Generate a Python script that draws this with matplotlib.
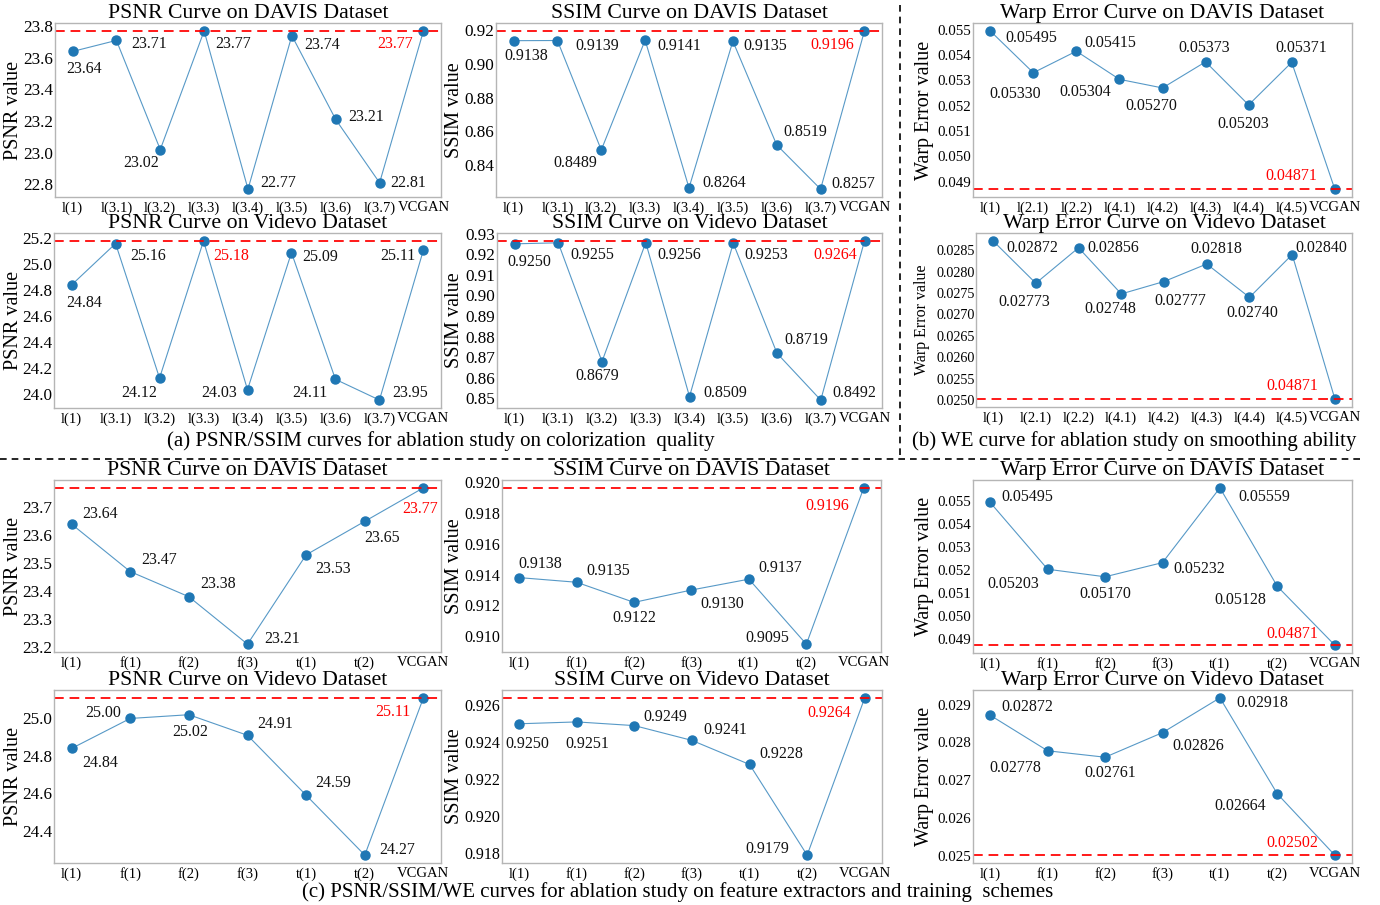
import matplotlib
matplotlib.use("Agg")
import matplotlib.pyplot as plt
from matplotlib.ticker import MultipleLocator, FormatStrFormatter
from matplotlib.lines import Line2D

plt.rcParams['font.family'] = ['Liberation Serif', 'DejaVu Serif']

# ---------------- data ----------------
cats_a = ["l(1)", "l(3.1)", "l(3.2)", "l(3.3)", "l(3.4)", "l(3.5)", "l(3.6)", "l(3.7)", "VCGAN"]
cats_b = ["l(1)", "l(2.1)", "l(2.2)", "l(4.1)", "l(4.2)", "l(4.3)", "l(4.4)", "l(4.5)", "VCGAN"]
cats_c = ["l(1)", "f(1)", "f(2)", "f(3)", "t(1)", "t(2)", "VCGAN"]

psnr_davis_a = [23.64, 23.71, 23.02, 23.77, 22.77, 23.74, 23.21, 22.81, 23.77]
ssim_davis_a = [0.9138, 0.9139, 0.8489, 0.9141, 0.8264, 0.9135, 0.8519, 0.8257, 0.9196]
psnr_videvo_a = [24.84, 25.16, 24.12, 25.18, 24.03, 25.09, 24.11, 23.95, 25.11]
ssim_videvo_a = [0.9250, 0.9255, 0.8679, 0.9256, 0.8509, 0.9253, 0.8719, 0.8492, 0.9264]

we_davis_b = [0.05495, 0.05330, 0.05415, 0.05304, 0.05270, 0.05373, 0.05203, 0.05371, 0.04871]
we_videvo_b = [0.02872, 0.02773, 0.02856, 0.02748, 0.02777, 0.02818, 0.02740, 0.02840, 0.02502]
we_videvo_b_labels = ["0.02872", "0.02773", "0.02856", "0.02748", "0.02777", "0.02818",
                      "0.02740", "0.02840", "0.04871"]

psnr_davis_c = [23.64, 23.47, 23.38, 23.21, 23.53, 23.65, 23.77]
ssim_davis_c = [0.9138, 0.9135, 0.9122, 0.9130, 0.9137, 0.9095, 0.9196]
we_davis_c = [0.05495, 0.05203, 0.05170, 0.05232, 0.05559, 0.05128, 0.04871]
psnr_videvo_c = [24.84, 25.00, 25.02, 24.91, 24.59, 24.27, 25.11]
ssim_videvo_c = [0.9250, 0.9251, 0.9249, 0.9241, 0.9228, 0.9179, 0.9264]
we_videvo_c = [0.02872, 0.02778, 0.02761, 0.02826, 0.02918, 0.02664, 0.02502]

# ---------------- layout / style ----------------
W, H = 1380, 905
fig = plt.figure(figsize=(W / 100, H / 100), dpi=100)

def rect(l, t, r, b):
    return [l / W, 1 - b / H, (r - l) / W, (b - t) / H]

BLUE = '#1f77b4'
GREY = '#b5b5b5'

def panel(box, cats, vals, title, ylabel, step, fmt, ref, red_idx, offsets, ylab_px,
          labels=None, ylabel_size=14.5, ytick_size=12.3):
    ax = fig.add_axes(rect(*box))
    x = list(range(len(cats)))
    ax.plot(x, vals, '-', color=BLUE, lw=0.8, alpha=0.75)
    ax.plot(x, vals, 'o', color=BLUE, ms=6.5)
    ax.axhline(ref, color='red', ls=(0, (5, 3)), lw=1.4, alpha=0.9)
    ax.set_xticks(x)
    ax.set_xticklabels(cats, fontsize=10.5)
    ax.yaxis.set_major_locator(MultipleLocator(step))
    ax.yaxis.set_major_formatter(FormatStrFormatter(fmt))
    ax.tick_params(axis='y', labelsize=ytick_size, length=0, pad=1)
    ax.tick_params(axis='x', length=0, pad=3)
    for s in ax.spines.values():
        s.set_color(GREY)
        s.set_linewidth(1.0)
    ax.set_title(title, fontsize=15.7, pad=1)
    ax.set_ylabel(ylabel, fontsize=ylabel_size)
    l, t, r, b = box
    ax.yaxis.set_label_coords((ylab_px - l) / (r - l), 0.5)
    if labels is None:
        dec = fmt.split('.')[1][0]
        nd = {'1': 2, '2': 4, '3': 4, '4': 5}[dec]
        if 'Warp' in ylabel:
            nd = 5
        labels = [f"{v:.{nd}f}" for v in vals]
    for i, (v, lab) in enumerate(zip(vals, labels)):
        dx, dy = offsets[i]
        ax.annotate(lab, (i, v), xytext=(dx, -dy), textcoords='offset pixels',
                    ha='left', va='center', fontsize=11.5,
                    color='red' if i == red_idx else '#111111')
    return ax

# offsets (pixels: dx to text left edge, dy downward to text center)
off_a1 = [(-6, 18), (15, 4), (-37, 13), (11, 13), (12, -6), (12, 9), (13, -2), (11, 0), (-46, 13)]
off_a2 = [(-9, 15), (18, 5), (-48, 13), (12, 6), (13, -5), (11, 5), (7, -13), (11, -5), (-54, 14)]
off_a3 = [(15, 7), (-44, 21), (8, -8), (-60, 13), (-37, 18), (-27, -14), (-31, 19), (-16, -14), (-69, -13)]
off_b1 = [(-5, 18), (15, 12), (-38, 15), (10, 15), (-46, 3), (11, 4), (-43, 14), (13, -7), (-43, 6)]
off_b2 = [(-7, 18), (12, 12), (-27, 14), (12, 12), (14, -4), (11, 12), (7, -13), (12, -7), (-51, 14)]
off_b3 = [(13, 7), (-37, 19), (9, 0), (-37, 15), (-10, 19), (-16, -15), (-23, 16), (3, -7), (-69, -13)]
off_c1 = [(11, -10), (11, -12), (11, -13), (17, -5), (9, 14), (-1, 17), (-21, 21)]
off_c2 = [(-1, -14), (10, -11), (-22, 16), (9, 14), (9, -11), (-61, -6), (-58, 18)]
off_c3 = [(11, -5), (-60, 15), (-26, 17), (11, 6), (18, 9), (-63, 14), (-68, -11)]
off_d1 = [(11, 15), (-45, -5), (-17, 17), (10, -11), (9, -12), (14, -5), (-48, 14)]
off_d2 = [(-14, 20), (-11, 22), (9, -9), (11, -10), (10, -10), (-62, -6), (-57, 15)]
off_d3 = [(11, -8), (-58, 17), (-21, 16), (10, 13), (16, 5), (-63, 12), (-68, -12)]

panel((55, 23, 441, 197), cats_a, psnr_davis_a, "PSNR Curve on DAVIS Dataset", "PSNR value",
      0.2, '%.1f', max(psnr_davis_a), 8, off_a1, 23)
panel((496, 23, 882, 197), cats_a, ssim_davis_a, "SSIM Curve on DAVIS Dataset", "SSIM value",
      0.02, '%.2f', max(ssim_davis_a), 8, off_a2, 464)
panel((973, 23, 1352, 197), cats_b, we_davis_b, "Warp Error Curve on DAVIS Dataset", "Warp Error value",
      0.001, '%.3f', min(we_davis_b), 8, off_a3, 934, ytick_size=10.8)
panel((54, 233, 441, 408), cats_a, psnr_videvo_a, "PSNR Curve on Videvo Dataset", "PSNR value",
      0.2, '%.1f', max(psnr_videvo_a), 3, off_b1, 23)
panel((497, 233, 882, 408), cats_a, ssim_videvo_a, "SSIM Curve on Videvo Dataset", "SSIM value",
      0.01, '%.2f', max(ssim_videvo_a), 8, off_b2, 464)
panel((976, 233, 1352, 407), cats_b, we_videvo_b, "Warp Error Curve on Videvo Dataset", "Warp Error value",
      0.0005, '%.4f', min(we_videvo_b), 8, off_b3, 930, labels=we_videvo_b_labels,
      ylabel_size=11.5, ytick_size=10.2)

panel((54, 480, 441, 652), cats_c, psnr_davis_c, "PSNR Curve on DAVIS Dataset", "PSNR value",
      0.1, '%.1f', psnr_davis_c[-1], 6, off_c1, 23)
panel((502, 480, 881, 652), cats_c, ssim_davis_c, "SSIM Curve on DAVIS Dataset", "SSIM value",
      0.002, '%.3f', ssim_davis_c[-1], 6, off_c2, 464, ytick_size=11.5)
panel((973, 480, 1352, 653), cats_c, we_davis_c, "Warp Error Curve on DAVIS Dataset", "Warp Error value",
      0.001, '%.3f', we_davis_c[-1], 6, off_c3, 934, ytick_size=10.8)
panel((54, 690, 441, 863), cats_c, psnr_videvo_c, "PSNR Curve on Videvo Dataset", "PSNR value",
      0.2, '%.1f', psnr_videvo_c[-1], 6, off_d1, 23)
panel((502, 690, 882, 863), cats_c, ssim_videvo_c, "SSIM Curve on Videvo Dataset", "SSIM value",
      0.002, '%.3f', ssim_videvo_c[-1], 6, off_d2, 464, ytick_size=11.5)
panel((973, 690, 1352, 863), cats_c, we_videvo_c, "Warp Error Curve on Videvo Dataset", "Warp Error value",
      0.001, '%.3f', we_videvo_c[-1], 6, off_d3, 934, ytick_size=10.8)

# captions
fig.text(441 / W, 1 - 441 / H, "(a) PSNR/SSIM curves for ablation study on colorization  quality",
         ha='center', va='center', fontsize=15)
fig.text(1134 / W, 1 - 441 / H, "(b) WE curve for ablation study on smoothing ability",
         ha='center', va='center', fontsize=15)
fig.text(678 / W, 1 - 892 / H, "(c) PSNR/SSIM/WE curves for ablation study on feature extractors and training  schemes",
         ha='center', va='center', fontsize=15)

# separators
fig.add_artist(Line2D([900 / W, 900 / W], [1 - 5 / H, 1 - 455 / H], color='black',
                      ls=(0, (4, 3)), lw=1.2, transform=fig.transFigure))
fig.add_artist(Line2D([0, 1360 / W], [1 - 459 / H, 1 - 459 / H], color='black',
                      ls=(0, (4, 3)), lw=1.2, transform=fig.transFigure))

fig.savefig("out.png", dpi=100)
